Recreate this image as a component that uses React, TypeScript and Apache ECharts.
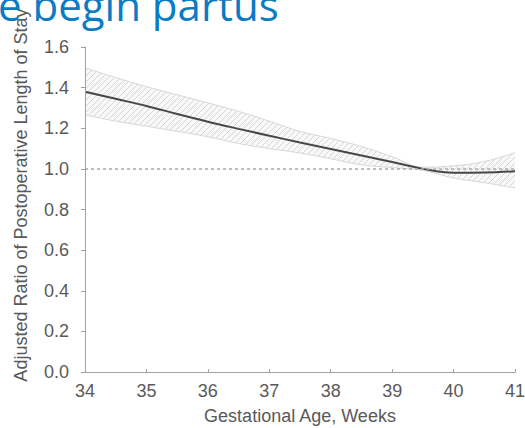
import React, { useEffect, useRef } from "react";
import * as echarts from "echarts";

const weeks = [34, 34.5, 35, 35.5, 36, 36.5, 37, 37.5, 38, 38.5, 39, 39.5, 40, 40.5, 41];
const ratio = [1.38, 1.345, 1.31, 1.27, 1.232, 1.197, 1.163, 1.13, 1.098, 1.066, 1.034, 1.0, 0.981, 0.982, 0.988];
const upper = [1.497, 1.45, 1.405, 1.365, 1.325, 1.283, 1.235, 1.184, 1.15, 1.11, 1.06, 1.008, 1.015, 1.036, 1.08];
const lower = [1.266, 1.235, 1.21, 1.185, 1.158, 1.125, 1.1, 1.078, 1.05, 1.02, 1.006, 0.993, 0.955, 0.932, 0.906];
const yTicks = [0, 0.2, 0.4, 0.6, 0.8, 1.0, 1.2, 1.4, 1.6];
const xTicks = [34, 35, 36, 37, 38, 39, 40, 41];
const refValue = 1.0;

const titleText = "e begin partus";
const yName = "Adjusted Ratio of Postoperative Length of Stay";
const xName = "Gestational Age, Weeks";

function hatchCanvas(): HTMLCanvasElement {
  const c = document.createElement("canvas");
  c.width = 6;
  c.height = 6;
  const ctx = c.getContext("2d");
  if (ctx) {
    ctx.fillStyle = "#f8f8f8";
    ctx.fillRect(0, 0, 6, 6);
    ctx.strokeStyle = "#d6d6d6";
    ctx.lineWidth = 1;
    ctx.beginPath();
    ctx.moveTo(-1, 7);
    ctx.lineTo(7, -1);
    ctx.moveTo(-4, 4);
    ctx.lineTo(4, -4);
    ctx.moveTo(2, 10);
    ctx.lineTo(10, 2);
    ctx.stroke();
  }
  return c;
}

export default function App() {
  const ref = useRef<HTMLDivElement>(null);
  useEffect(() => {
    if (!ref.current) return;
    const chart = echarts.init(ref.current, null, { renderer: "svg" });
    const font = "'Liberation Sans', Arial, sans-serif";
    const grey = "#595959";
    const axisColor = "#a0a0a0";
    const lowerData = weeks.map((w, i) => [w, lower[i]]);
    const upperData = weeks.map((w, i) => [w, upper[i]]);
    const ratioData = weeks.map((w, i) => [w, ratio[i]]);
    chart.setOption({
      animation: false,
      backgroundColor: "#ffffff",
      grid: { left: 85, right: 10, top: 47, bottom: 56, containLabel: false, outerBoundsMode: "none" },
      xAxis: {
        type: "value",
        z: 6,
        min: xTicks[0],
        max: xTicks[xTicks.length - 1],
        interval: 1,
        name: xName,
        nameLocation: "middle",
        nameGap: 35,
        nameTextStyle: { color: grey, fontSize: 18, fontFamily: font },
        axisLine: { show: true, lineStyle: { color: axisColor, width: 1 } },
        axisTick: { show: true, inside: true, length: 3, lineStyle: { color: axisColor } },
        axisLabel: { color: grey, fontSize: 18, fontFamily: font, margin: 10 },
        splitLine: { show: false },
      },
      yAxis: {
        type: "value",
        z: 6,
        min: yTicks[0],
        max: yTicks[yTicks.length - 1],
        interval: 0.2,
        axisLine: { show: true, lineStyle: { color: axisColor, width: 1 } },
        axisTick: { show: true, inside: false, length: 4, lineStyle: { color: axisColor } },
        axisLabel: {
          color: grey,
          fontSize: 18,
          fontFamily: font,
          margin: 16,
          formatter: (v: number) => v.toFixed(1),
        },
        splitLine: { show: false },
      },
      series: [
        {
          type: "line",
          name: "upper",
          data: upperData,
          smooth: 0.4,
          symbol: "none",
          lineStyle: { color: "#d6d6d6", width: 1 },
          areaStyle: {
            origin: "start",
            color: {
              image: hatchCanvas(),
              repeat: "repeat",
              imageWidth: 6,
              imageHeight: 6,
            },
            opacity: 1,
          },
          z: 1,
        },
        {
          type: "line",
          name: "lower",
          data: lowerData,
          smooth: 0.4,
          symbol: "none",
          lineStyle: { color: "#d6d6d6", width: 1 },
          areaStyle: { origin: "start", color: "#ffffff", opacity: 1 },
          z: 2,
        },
        {
          type: "line",
          name: "ratio",
          data: ratioData,
          smooth: 0.4,
          symbol: "none",
          lineStyle: { color: "#474747", width: 2 },
          z: 4,
          markLine: {
            silent: true,
            symbol: "none",
            label: { show: false },
            lineStyle: { color: "#a8a8a8", type: [3, 3], width: 1.5 },
            data: [{ yAxis: refValue }],
          },
        },
      ],
      graphic: [
        {
          type: "text",
          rotation: Math.PI / 2,
          x: 21,
          y: 195,
          style: {
            text: yName,
            fill: grey,
            fontSize: 18,
            fontFamily: font,
            align: "center",
            verticalAlign: "middle",
          },
          z: 5,
        },
        {
          type: "text",
          x: -2,
          y: 4,
          style: {
            text: titleText,
            fill: "#0b7bc4",
            fontSize: 42,
            fontFamily: "'Open Sans', sans-serif",
            align: "left",
            verticalAlign: "middle",
          },
          z: 10,
        },
      ],
    });
    return () => chart.dispose();
  }, []);
  return (
    <div
      ref={ref}
      style={{ position: "absolute", left: 0, top: 0, width: 525, height: 428 }}
    />
  );
}
